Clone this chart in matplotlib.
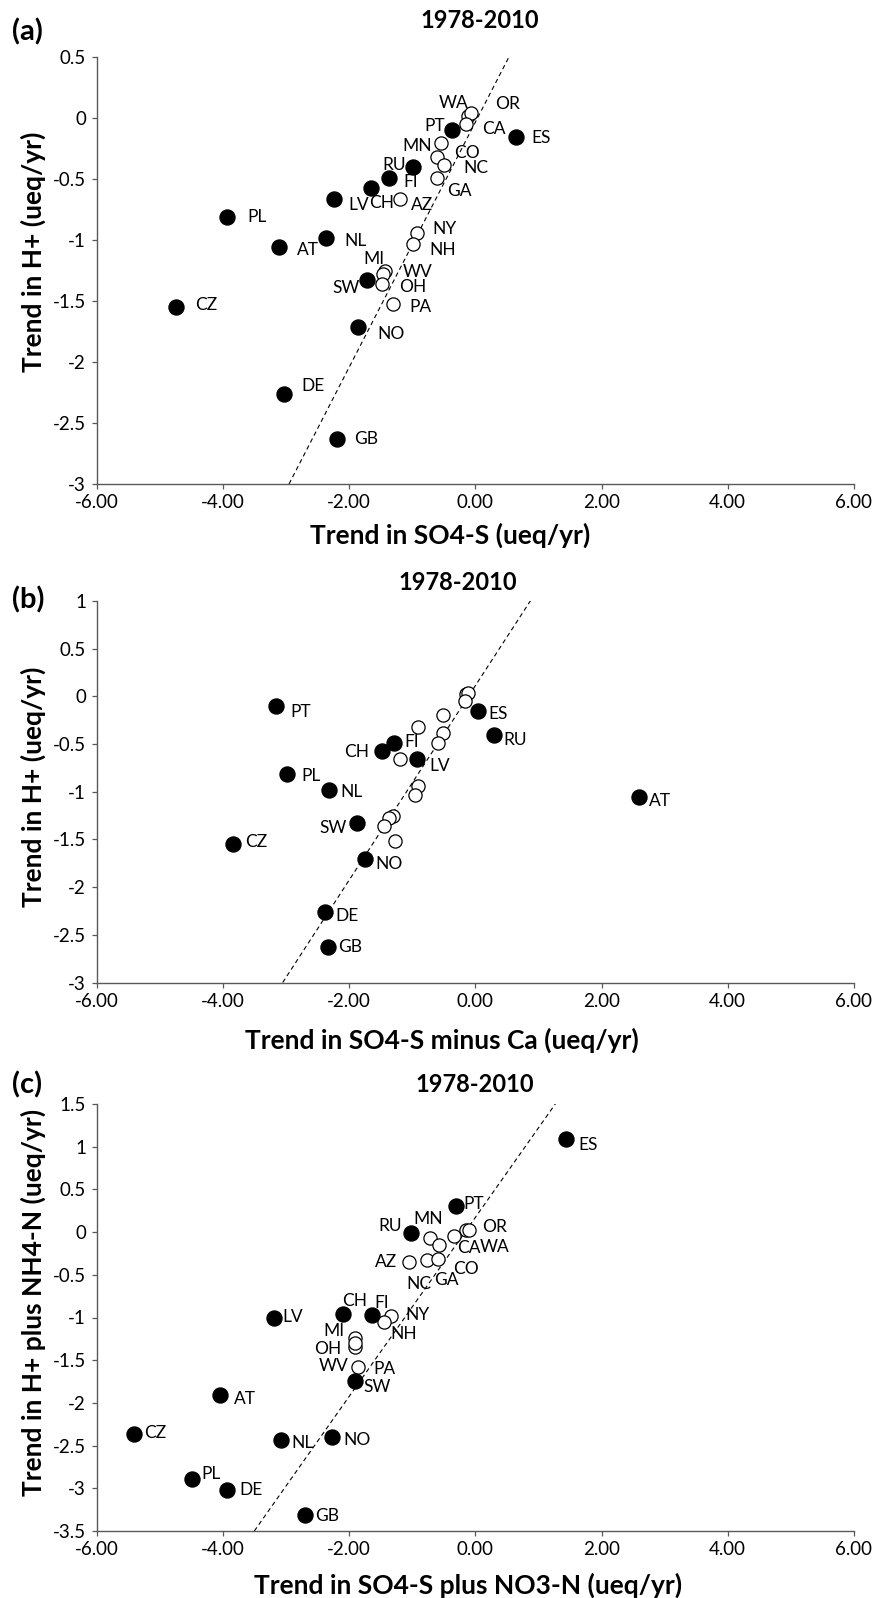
import numpy as np
import matplotlib.pyplot as plt

plt.rcParams['font.family'] = ['Lato', 'DejaVu Sans']

countries = ["PT", "ES", "RU", "FI", "CH", "LV", "PL", "NL", "AT", "SW", "CZ", "NO", "DE", "GB"]
states = ["WA", "OR", "CA", "MN", "CO", "NC", "GA", "AZ", "NY", "NH", "MI", "WV", "OH", "PA"]

# trend in H+ (y of panels a and b)
h_countries = [-0.10, -0.15, -0.40, -0.49, -0.57, -0.66, -0.81, -0.98, -1.06, -1.33, -1.55, -1.71, -2.26, -2.63]
h_states = [0.02, 0.04, -0.05, -0.20, -0.32, -0.38, -0.49, -0.66, -0.94, -1.03, -1.25, -1.28, -1.36, -1.52]

# (a) trend in SO4-S
so4_countries = [-0.37, 0.64, -0.99, -1.37, -1.65, -2.23, -3.94, -2.37, -3.11, -1.72, -4.74, -1.85, -3.03, -2.19]
so4_states = [-0.11, -0.06, -0.15, -0.54, -0.60, -0.50, -0.60, -1.19, -0.93, -0.98, -1.43, -1.46, -1.48, -1.31]

# (b) trend in SO4-S minus Ca
so4ca_countries = [-3.15, 0.05, 0.29, -1.29, -1.47, -0.92, -2.99, -2.32, 2.59, -1.87, -3.83, -1.74, -2.38, -2.33]
so4ca_states = [-0.14, -0.11, -0.16, -0.51, -0.90, -0.51, -0.59, -1.19, -0.90, -0.95, -1.30, -1.37, -1.44, -1.27]

# (c) trend in SO4-S plus NO3-N vs H+ plus NH4-N
so4no3_countries = [-0.31, 1.43, -1.02, -1.63, -2.10, -3.19, -4.48, -3.07, -4.04, -1.90, -5.40, -2.27, -3.94, -2.69]
hnh4_countries = [0.31, 1.09, -0.01, -0.97, -0.96, -1.01, -2.89, -2.44, -1.91, -1.74, -2.37, -2.40, -3.02, -3.31]
so4no3_states = [-0.14, -0.10, -0.33, -0.72, -0.57, -0.76, -0.59, -1.05, -1.34, -1.44, -1.91, -1.90, -1.90, -1.85]
hnh4_states = [0.02, 0.03, -0.05, -0.07, -0.15, -0.33, -0.31, -0.35, -0.98, -1.05, -1.24, -1.35, -1.30, -1.58]

# dashed reference lines (end points)
line_a_x, line_a_y = [-2.95, 0.70], [-3.0, 0.67]
line_b_x, line_b_y = [-3.05, 0.97], [-3.0, 1.10]
line_c_x, line_c_y = [-3.50, 1.43], [-3.5, 1.67]

# label offsets in pixels (dx, dy)
off_a = {"PT": (-17, 4), "ES": (25, -1), "RU": (-19, 2), "FI": (22, -4), "CH": (11, -15),
         "LV": (24, -6), "PL": (30, 0), "NL": (30, -3), "AT": (29, -3), "SW": (-21, -8),
         "CZ": (30, 2), "NO": (33, -7), "DE": (29, 8), "GB": (29, 0),
         "WA": (-15, 13), "OR": (36, 9), "CA": (28, -5), "MN": (-24, -3), "CO": (30, 4),
         "NC": (32, -3), "GA": (22, -13), "AZ": (22, -6), "NY": (28, 4), "NH": (29, -6),
         "MI": (-11, 12), "WV": (35, 2), "OH": (31, -3), "PA": (28, -3)}
off_b = {"PT": (24, -6), "ES": (20, -3), "RU": (22, -5), "FI": (18, 1), "CH": (-26, -1),
         "LV": (23, -7), "PL": (24, -2), "NL": (23, -2), "AT": (21, -4), "SW": (-24, -5),
         "CZ": (23, 2), "NO": (24, -5), "DE": (22, -4), "GB": (22, 0)}
off_c = {"PT": (18, 2), "ES": (23, -6), "RU": (-21, 7), "FI": (9, 12), "CH": (12, 13),
         "LV": (19, 1), "PL": (19, 5), "NL": (21, -3), "AT": (25, -4), "SW": (22, -6),
         "CZ": (21, 1), "NO": (25, -3), "DE": (24, 0), "GB": (22, -1),
         "WA": (28, -17), "OR": (26, 3), "CA": (14, -12), "MN": (-2, 19), "CO": (27, -24),
         "NC": (-8, -24), "GA": (8, -21), "AZ": (-23, 0), "NY": (27, 1), "NH": (19, -12),
         "MI": (-21, 7), "WV": (-22, -19), "OH": (-28, -6), "PA": (26, -2)}

W, H = 883, 1598
fig = plt.figure(figsize=(W / 100, H / 100), dpi=100)


def px(x0, y0, x1, y1):
    # pixel box (top-left origin) to figure fraction
    return [x0 / W, 1 - y1 / H, (x1 - x0) / W, (y1 - y0) / H]


def draw_panel(rect, xc, yc, xs, ys, line_x, line_y, yticks, offsets,
               letter, letter_y, title_x, title_y, xlabel, ylabel, xlab_pos, ylab_pos):
    ax = fig.add_axes(rect)
    ax.plot(line_x, line_y, color='black', lw=0.8, linestyle=(0, (4, 3)), zorder=1)
    ax.plot(xs, ys, 'o', ms=9.5, mfc='white', mec='black', mew=0.9, zorder=2)
    ax.plot(xc, yc, 'o', ms=10.8, mfc='black', mec='black', zorder=3)

    names = list(zip(countries, xc, yc)) + list(zip(states, xs, ys))
    for name, x, y in names:
        if name in offsets:
            ax.annotate(name, (x, y), xytext=offsets[name], textcoords='offset pixels',
                        ha='center', va='center', fontsize=12.5, zorder=4)

    ax.set_xlim(-6, 6)
    ax.set_ylim(yticks[0], yticks[-1])
    xt = np.arange(-6, 7, 2)
    ax.set_xticks(xt)
    ax.set_xticklabels([f"{v:.2f}" for v in xt])
    ax.set_yticks(yticks)
    ax.set_yticklabels([f"{v:g}" for v in yticks])
    for s in ['top', 'right']:
        ax.spines[s].set_visible(False)
    for s in ['left', 'bottom']:
        ax.spines[s].set_color('#595959')
        ax.spines[s].set_linewidth(1.0)
    ax.tick_params(direction='out', length=3.5, width=0.9, color='#595959',
                   labelsize=13.5, pad=4)

    ax.set_xlabel(xlabel, fontsize=19, fontweight='bold', va='center')
    ax.xaxis.set_label_coords(*xlab_pos)
    ax.set_ylabel(ylabel, fontsize=19, fontweight='bold', va='center')
    ax.yaxis.set_label_coords(*ylab_pos)

    fig.text(12 / W, 1 - letter_y / H, letter, fontsize=21, fontweight='bold',
             ha='left', va='center')
    fig.text(title_x / W, 1 - title_y / H, "1978-2010", fontsize=17, fontweight='bold',
             ha='center', va='center')
    return ax


draw_panel(px(96.5, 57.3, 854, 484), so4_countries, h_countries, so4_states, h_states,
           line_a_x, line_a_y, np.arange(-3, 0.51, 0.5), off_a,
           "(a)", 32, 480, 20, "Trend in SO4-S (ueq/yr)", "Trend in H+ (ueq/yr)",
           (0.467, -0.12), (-0.083, 0.543))

draw_panel(px(96.5, 601, 854, 982.5), so4ca_countries, h_countries, so4ca_states, h_states,
           line_b_x, line_b_y, np.arange(-3, 1.01, 0.5), off_b,
           "(b)", 600, 458, 583, "Trend in SO4-S minus Ca (ueq/yr)", "Trend in H+ (ueq/yr)",
           (0.456, -0.151), (-0.083, 0.512))

draw_panel(px(96.5, 1104, 854, 1531), so4no3_countries, hnh4_countries, so4no3_states, hnh4_states,
           line_c_x, line_c_y, np.arange(-3.5, 1.51, 0.5), off_c,
           "(c)", 1085, 475, 1084.5, "Trend in SO4-S plus NO3-N (ueq/yr)",
           "Trend in H+ plus NH4-N (ueq/yr)",
           (0.49, -0.128), (-0.083, 0.536))

fig.savefig("out.png", dpi=100)
